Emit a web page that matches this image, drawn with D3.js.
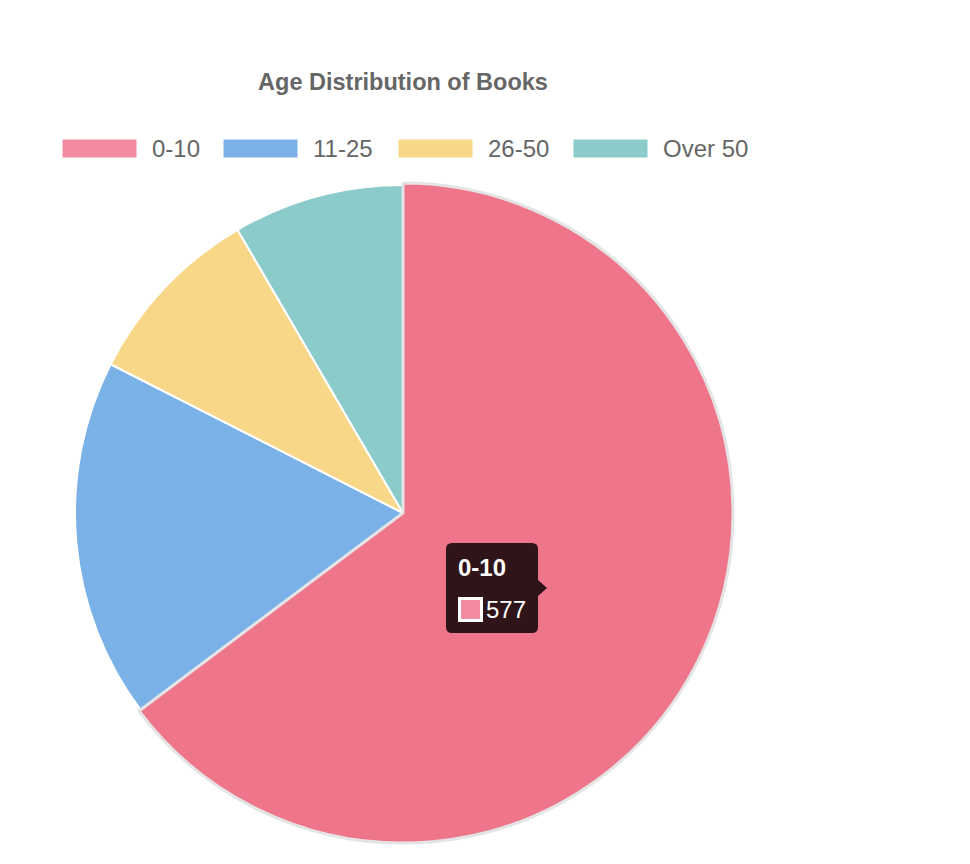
<!DOCTYPE html>
<html>
<head>
<meta charset="utf-8">
<script src="https://cdn.jsdelivr.net/npm/d3@7"></script>
<style>
  body { margin: 0; background: #fff; }
  svg { font-family: "Liberation Sans", Arial, Helvetica, sans-serif; }
</style>
</head>
<body>
<div id="mypie"></div>
<script>
// Chart data
const categories = ["0-10", "11-25", "26-50", "Over 50"];
const values = [577, 158, 81, 75];
const colors = ["#f38ba0", "#7ab2e8", "#f8d888", "#8bcbca"];
const hoverColor = "#ef758a";
const hovered = 0;

const width = 970, height = 864;
const cx = 403, cy = 513, radius = 328;

const svg = d3.select("#mypie")
  .append("svg")
  .attr("width", width)
  .attr("height", height);

// Title
svg.append("text")
  .attr("x", cx)
  .attr("y", 90)
  .attr("text-anchor", "middle")
  .style("font-size", "23.5px")
  .style("font-weight", "bold")
  .style("fill", "#666")
  .text("Age Distribution of Books");

// Legend
const legendX = [62, 223, 398, 573];
const legend = svg.selectAll(".legend")
  .data(categories)
  .enter()
  .append("g")
  .attr("class", "legend")
  .attr("transform", (d, i) => "translate(" + legendX[i] + ",139)");

legend.append("rect")
  .attr("width", 75)
  .attr("height", 19)
  .style("fill", (d, i) => colors[i])
  .style("stroke", "#fff")
  .style("stroke-width", 1);

legend.append("text")
  .attr("x", 90)
  .attr("y", 18)
  .style("font-size", "24px")
  .style("fill", "#666")
  .text(d => d);

// Pie
const pie = d3.pie().sort(null).value(d => d);
const arcs = pie(values);
const arc = d3.arc().innerRadius(0).outerRadius(radius);
const arcHover = d3.arc().innerRadius(0).outerRadius(radius + 2);

const g = svg.append("g")
  .attr("transform", "translate(" + cx + "," + cy + ")");

g.selectAll(".slice")
  .data(arcs)
  .enter()
  .append("path")
  .attr("class", "slice")
  .attr("d", (d, i) => i === hovered ? arcHover(d) : arc(d))
  .style("fill", (d, i) => i === hovered ? hoverColor : colors[i])
  .style("stroke", (d, i) => i === hovered ? "#e4e4e4" : "#fff")
  .style("stroke-width", (d, i) => i === hovered ? 3 : 2)
  .style("stroke-linejoin", "round");

// bring hovered slice on top
g.selectAll(".slice").filter((d, i) => i === hovered).raise();

// Tooltip
const tip = svg.append("g").attr("transform", "translate(446,543)");
const tw = 92, th = 90;
tip.append("path")
  .attr("d", "M6,0 H" + (tw - 6) + " Q" + tw + ",0 " + tw + ",6 V" + (th / 2 - 8) +
    " L" + (tw + 9) + "," + (th / 2) + " L" + tw + "," + (th / 2 + 8) +
    " V" + (th - 6) + " Q" + tw + "," + th + " " + (tw - 6) + "," + th +
    " H6 Q0," + th + " 0," + (th - 6) + " V6 Q0,0 6,0 Z")
  .style("fill", "#2f1519");

tip.append("text")
  .attr("x", 12)
  .attr("y", 33)
  .style("font-size", "24px")
  .style("font-weight", "bold")
  .style("fill", "#fff")
  .text(categories[hovered]);

tip.append("rect")
  .attr("x", 13.5)
  .attr("y", 55.5)
  .attr("width", 22)
  .attr("height", 22)
  .style("fill", colors[hovered])
  .style("stroke", "#fff")
  .style("stroke-width", 3);

tip.append("text")
  .attr("x", 40)
  .attr("y", 75)
  .style("font-size", "24px")
  .style("fill", "#fff")
  .text(values[hovered]);
</script>
</body>
</html>
